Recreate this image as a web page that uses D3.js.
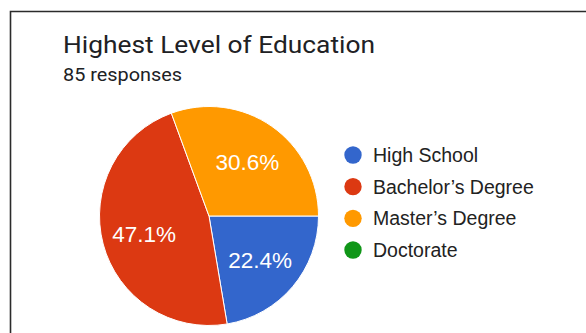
<!DOCTYPE html>
<html>
<head>
<meta charset="utf-8">
<script src="https://cdn.jsdelivr.net/npm/d3@7"></script>
<style>
  html, body { margin: 0; padding: 0; background: #ffffff; }
  svg { display: block; }
</style>
</head>
<body>
<svg id="chart" width="586" height="333"></svg>
<script>
// Survey answers: highest level of education
const chartTitle = "Highest Level of Education";
const responseCount = 85;
const categories = ["High School", "Bachelor\u2019s Degree", "Master\u2019s Degree", "Doctorate"];
const counts = [19, 40, 26, 0];
const sliceColors = ["#3366cc", "#dc3912", "#ff9900", "#109618"];

const W = 586, H = 333;
const svg = d3.select("#chart");

// card frame (top and left edges)
svg.append("path")
  .attr("d", `M10.5,${H} L10.5,11.5 L${W},11.5`)
  .attr("fill", "none")
  .attr("stroke", "#2b2b2b")
  .attr("stroke-width", 1.6);

// title + response count (wide-set header text)
svg.append("text")
  .attr("x", 63).attr("y", 53)
  .attr("font-family", "Roboto, sans-serif")
  .attr("font-size", 23.5)
  .attr("fill", "#202124")
  .attr("textLength", 312)
  .attr("lengthAdjust", "spacingAndGlyphs")
  .text(chartTitle);

svg.append("text")
  .attr("x", 63).attr("y", 81)
  .attr("font-family", "Roboto, sans-serif")
  .attr("font-size", 18.5)
  .attr("fill", "#202124")
  .attr("textLength", 119)
  .attr("lengthAdjust", "spacingAndGlyphs")
  .text(`${responseCount} responses`);

// pie
const cx = 209, cy = 216, R = 109.5;
const data = categories.map((c, i) => ({ name: c, value: counts[i], color: sliceColors[i] }));
const total = d3.sum(counts);

const pie = d3.pie()
  .value(d => d.value)
  .sort(null)
  .startAngle(Math.PI / 2)
  .endAngle(Math.PI / 2 + 2 * Math.PI);

const arcs = pie(data).filter(a => a.data.value > 0);
const arc = d3.arc().innerRadius(0).outerRadius(R);
const labelArc = d3.arc().innerRadius(67).outerRadius(67);

const g = svg.append("g").attr("transform", `translate(${cx},${cy})`);

g.selectAll("path.slice")
  .data(arcs)
  .join("path")
  .attr("class", "slice")
  .attr("d", arc)
  .attr("fill", d => d.data.color)
  .attr("stroke", "#ffffff")
  .attr("stroke-width", 1);

const pct = d3.format(".1f");
g.selectAll("text.pct")
  .data(arcs)
  .join("text")
  .attr("class", "pct")
  .attr("transform", d => `translate(${labelArc.centroid(d)})`)
  .attr("dy", "0.4em")
  .attr("text-anchor", "middle")
  .attr("font-family", "'Liberation Sans', Arial, sans-serif")
  .attr("font-size", 22.5)
  .attr("fill", "#ffffff")
  .text(d => pct(d.data.value / total * 100) + "%");

// legend
const legendY = d3.scalePoint()
  .domain(categories)
  .range([155, 250]);

const legend = svg.append("g");
const rows = legend.selectAll("g")
  .data(data)
  .join("g")
  .attr("transform", d => `translate(353,${legendY(d.name)})`);

rows.append("circle")
  .attr("r", 8.7)
  .attr("fill", d => d.color);

rows.append("text")
  .attr("x", 20)
  .attr("dy", "0.36em")
  .attr("font-family", "'Liberation Sans', Arial, sans-serif")
  .attr("font-size", 19.5)
  .attr("fill", "#222222")
  .text(d => d.name);
</script>
</body>
</html>
